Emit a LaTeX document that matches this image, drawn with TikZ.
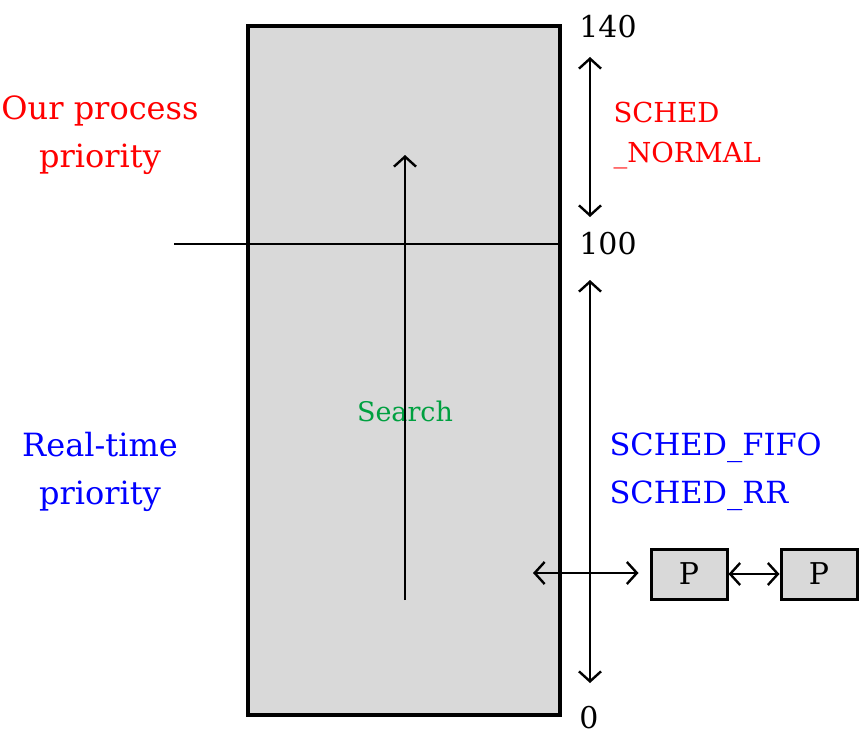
\documentclass[tikz,border=0pt]{standalone}
\usepackage{fontspec}
\setmainfont{DejaVu Serif}
\usetikzlibrary{arrows.meta,positioning}
\definecolor{boxgray}{RGB}{217,217,217}
\definecolor{searchgreen}{RGB}{0,160,64}
\tikzset{
  bigtext/.style={font=\fontsize{32}{48}\selectfont, align=center},
  smalltext/.style={font=\fontsize{27.5}{40}\selectfont, align=left},
  numtext/.style={font=\fontsize{30}{36}\selectfont, inner sep=0pt},
  pbox/.style={draw, line width=3pt, fill=boxgray, minimum width=76pt, minimum height=50pt, inner sep=0pt, font=\fontsize{30}{36}\selectfont},
}
\begin{document}
\begin{tikzpicture}[x=1pt,y=-1pt, line width=2.4pt, >={Straight Barb[length=10pt,width=22pt]}]
\useasboundingbox (0,0) rectangle (859,741);
% priority queue
\node [draw, line width=4pt, fill=boxgray, minimum width=312pt, minimum height=689pt, inner sep=0pt] (queue) at (404,370.5) {};
\coordinate (cut) at (174,244);
\draw (cut) -- (cut -| queue.east);
% search direction
\node [font=\fontsize{27}{30}\selectfont, text=searchgreen] (search) at (405,411) {Search};
\coordinate (s0) at (405,600);
\coordinate (s1) at (405,155);
\draw [->] (s0) -- (s1);
% scale
\node [numtext] (n140) at (608,27) {140};
\node [numtext] (n100) at (608,244) {100};
\node [numtext] (n0) at (589,718) {0};
\coordinate (a1) at (590,57);
\coordinate (a2) at (590,217);
\coordinate (b1) at (590,280);
\coordinate (b2) at (590,683);
\draw [<->] (a1) -- (a2);
\draw [<->] (b1) -- (b2);
\node [smalltext, text=red, anchor=west] (normal) at (609,136) {SCHED\\\_NORMAL};
\node [bigtext, text=blue, anchor=west, align=left, font=\fontsize{30.5}{48}\selectfont] (rt) at (605,472) {SCHED\_FIFO\\SCHED\_RR};
% left labels
\node [bigtext, text=red] (ours) at (100,135) {Our process\\priority};
\node [bigtext, text=blue] (realtime) at (100,472) {Real-time\\priority};
% process list
\node [pbox] (p1) at (689,574) {P};
\node [pbox] (p2) at (819,574) {P};
\coordinate (ql) at (533,573);
\draw [<->] (ql) -- (p1.west |- ql) [shorten >=11pt];
\draw [<->] (p1) -- (p2);
\end{tikzpicture}
\end{document}
